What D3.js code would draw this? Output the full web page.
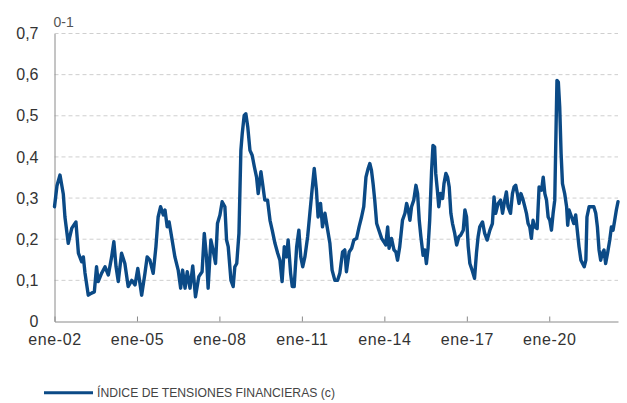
<!DOCTYPE html>
<html>
<head>
<meta charset="utf-8">
<script src="https://cdn.jsdelivr.net/npm/d3@7"></script>
<style>
  html, body { margin: 0; padding: 0; background: #fff; }
  svg { display: block; font-family: "Liberation Sans", Arial, Helvetica, sans-serif; }
</style>
</head>
<body>
<svg id="chart" width="627" height="403"></svg>
<script>
// ---- Data ----
const yearsDec = [
 2002.00,2002.09,2002.20,2002.32,2002.38,2002.50,2002.63,2002.78,2002.87,2002.99,
 2003.05,2003.11,2003.23,2003.35,2003.45,2003.53,2003.59,2003.72,2003.84,2003.96,
 2004.08,2004.16,2004.24,2004.32,2004.44,2004.56,2004.68,2004.81,2004.93,2005.03,
 2005.17,2005.29,2005.37,2005.47,2005.59,2005.69,2005.77,2005.86,2005.96,2006.02,
 2006.10,2006.17,2006.26,2006.38,2006.50,2006.59,2006.66,2006.75,2006.83,2006.93,
 2007.03,2007.13,2007.25,2007.37,2007.45,2007.53,2007.59,2007.69,2007.77,2007.86,
 2007.93,2008.02,2008.10,2008.20,2008.26,2008.32,2008.42,2008.50,2008.56,2008.63,
 2008.71,2008.78,2008.83,2008.90,2008.96,2009.03,2009.11,2009.19,2009.27,2009.35,
 2009.41,2009.51,2009.57,2009.65,2009.75,2009.84,2009.92,2010.02,2010.12,2010.20,
 2010.28,2010.36,2010.44,2010.50,2010.59,2010.65,2010.72,2010.81,2010.89,2010.96,
 2011.03,2011.11,2011.21,2011.29,2011.37,2011.45,2011.53,2011.59,2011.68,2011.75,
 2011.84,2011.92,2012.02,2012.10,2012.20,2012.30,2012.38,2012.48,2012.56,2012.62,
 2012.72,2012.81,2012.89,2012.99,2013.08,2013.17,2013.25,2013.33,2013.41,2013.47,
 2013.53,2013.59,2013.65,2013.72,2013.80,2013.90,2013.98,2014.05,2014.12,2014.17,
 2014.26,2014.35,2014.42,2014.48,2014.56,2014.66,2014.75,2014.81,2014.87,2014.93,
 2014.99,2015.07,2015.15,2015.21,2015.27,2015.33,2015.41,2015.47,2015.53,2015.59,
 2015.65,2015.72,2015.77,2015.83,2015.87,2015.93,2015.98,2016.04,2016.12,2016.17,
 2016.24,2016.30,2016.36,2016.42,2016.48,2016.56,2016.63,2016.71,2016.78,2016.87,
 2016.93,2016.99,2017.05,2017.11,2017.19,2017.28,2017.35,2017.41,2017.47,2017.57,
 2017.65,2017.74,2017.84,2017.93,2017.99,2018.05,2018.14,2018.23,2018.30,2018.38,
 2018.44,2018.50,2018.59,2018.66,2018.72,2018.78,2018.84,2018.90,2018.97,2019.05,
 2019.11,2019.17,2019.23,2019.29,2019.35,2019.41,2019.47,2019.56,2019.63,2019.72,
 2019.78,2019.84,2019.90,2019.96,2020.02,2020.08,2020.14,2020.20,2020.25,2020.28,
 2020.33,2020.38,2020.43,2020.48,2020.56,2020.63,2020.67,2020.72,2020.81,2020.89,
 2020.96,2021.03,2021.08,2021.15,2021.21,2021.27,2021.33,2021.37,2021.45,2021.53,
 2021.62,2021.69,2021.75,2021.81,2021.87,2021.93,2021.99,2022.05,2022.12,2022.20,
 2022.26,2022.32,2022.38,2022.44,2022.50
];
const values = [
 0.279,0.330,0.356,0.310,0.254,0.190,0.227,0.242,0.166,0.145,
 0.157,0.118,0.064,0.069,0.072,0.133,0.097,0.118,0.133,0.113,
 0.157,0.194,0.133,0.097,0.166,0.141,0.085,0.100,0.089,0.129,
 0.064,0.117,0.157,0.149,0.117,0.182,0.254,0.279,0.259,0.271,
 0.230,0.242,0.206,0.157,0.125,0.081,0.125,0.081,0.121,0.081,
 0.135,0.060,0.109,0.121,0.214,0.157,0.081,0.198,0.174,0.141,
 0.238,0.259,0.291,0.279,0.198,0.182,0.100,0.085,0.133,0.141,
 0.214,0.416,0.457,0.501,0.505,0.473,0.416,0.404,0.376,0.351,
 0.311,0.364,0.335,0.295,0.295,0.246,0.222,0.190,0.166,0.149,
 0.097,0.182,0.157,0.198,0.117,0.085,0.085,0.182,0.222,0.157,
 0.133,0.157,0.206,0.263,0.319,0.372,0.319,0.254,0.287,0.230,
 0.263,0.230,0.190,0.125,0.100,0.100,0.117,0.169,0.174,0.121,
 0.169,0.178,0.198,0.202,0.230,0.254,0.279,0.351,0.372,0.384,
 0.368,0.335,0.295,0.238,0.222,0.202,0.194,0.186,0.230,0.178,
 0.202,0.174,0.169,0.149,0.182,0.246,0.263,0.287,0.271,0.246,
 0.279,0.295,0.331,0.311,0.246,0.206,0.161,0.174,0.141,0.178,
 0.246,0.368,0.428,0.424,0.360,0.319,0.279,0.311,0.299,0.335,
 0.360,0.351,0.327,0.263,0.238,0.214,0.186,0.206,0.210,0.222,
 0.271,0.254,0.182,0.141,0.125,0.105,0.166,0.206,0.230,0.242,
 0.214,0.198,0.222,0.238,0.303,0.263,0.287,0.295,0.263,0.295,
 0.315,0.279,0.263,0.311,0.327,0.331,0.311,0.287,0.311,0.295,
 0.279,0.263,0.238,0.230,0.202,0.246,0.230,0.226,0.327,0.319,
 0.351,0.311,0.295,0.254,0.246,0.222,0.263,0.295,0.481,0.586,
 0.582,0.521,0.408,0.335,0.311,0.279,0.234,0.271,0.254,0.238,
 0.259,0.214,0.182,0.149,0.141,0.133,0.149,0.254,0.279,0.279,
 0.279,0.263,0.230,0.174,0.149,0.166,0.174,0.141,0.166,0.198,
 0.230,0.222,0.246,0.271,0.291
];
const yTicks = [0, 0.1, 0.2, 0.3, 0.4, 0.5, 0.6, 0.7];
const xTickYears = [2002, 2005, 2008, 2011, 2014, 2017, 2020];
const unitLabel = "0-1";
const legendLabel = "ÍNDICE DE TENSIONES FINANCIERAS (c)";

(function () {
  function decToDate(d) {
    const yr = Math.floor(d);
    const start = new Date(yr, 0, 1).getTime();
    const end = new Date(yr + 1, 0, 1).getTime();
    return new Date(start + (d - yr) * (end - start));
  }
  const data = yearsDec.map((d, i) => ({ date: decToDate(d), value: values[i] }));

  const svg = d3.select("#chart");
  const mLeft = 54.5, mRight = 618, mTop = 33.5, mBottom = 321.5;
  const lineColor = "#0b4a86";

  const x = d3.scaleTime()
    .domain([new Date(2002, 0, 1), decToDate(2022.5)])
    .range([mLeft, mRight]);
  const y = d3.scaleLinear().domain([0, 0.7]).range([mBottom, mTop]);

  // Gridlines
  svg.append("g")
    .selectAll("line")
    .data(yTicks.filter(t => t > 0))
    .join("line")
    .attr("x1", mLeft).attr("x2", mRight)
    .attr("y1", d => y(d)).attr("y2", d => y(d))
    .attr("stroke", "#cfcfcf")
    .attr("stroke-width", 1)
    .attr("stroke-dasharray", "4,3");

  // Y axis
  const fmtY = v => v === 0 ? "0" : d3.format(".1f")(v).replace(".", ",");
  const yAxis = svg.append("g")
    .attr("transform", `translate(${mLeft},0)`)
    .call(d3.axisLeft(y).tickValues(yTicks).tickFormat(fmtY).tickSize(0).tickPadding(16));
  yAxis.select(".domain").attr("stroke", "#8a8a8a");
  yAxis.selectAll("text")
    .attr("fill", "#333")
    .attr("font-size", "16px")
    .attr("font-family", "\"Liberation Sans\", Arial, sans-serif");

  // X axis
  const meses = ["ene","feb","mar","abr","may","jun","jul","ago","sep","oct","nov","dic"];
  const fmtX = d => meses[d.getMonth()] + "-" + String(d.getFullYear() % 100).padStart(2, "0");
  const xAxis = svg.append("g")
    .attr("transform", `translate(0,${mBottom})`)
    .call(d3.axisBottom(x)
      .tickValues(xTickYears.map(yr => new Date(yr, 0, 1)))
      .tickFormat(fmtX)
      .tickSizeInner(-5).tickSizeOuter(0).tickPadding(12));
  xAxis.select(".domain").attr("stroke", "#8a8a8a");
  xAxis.selectAll(".tick line").attr("stroke", "#8a8a8a");
  xAxis.selectAll("text")
    .attr("fill", "#333")
    .attr("font-size", "16px")
    .attr("letter-spacing", "0.6px")
    .attr("font-family", "\"Liberation Sans\", Arial, sans-serif");

  // Unit label
  svg.append("text")
    .attr("x", mLeft - 1).attr("y", 26.5)
    .attr("font-size", "14px")
    .attr("fill", "#555")
    .text(unitLabel);

  // Line
  const line = d3.line().x(d => x(d.date)).y(d => y(d.value));
  svg.append("path")
    .datum(data)
    .attr("fill", "none")
    .attr("stroke", lineColor)
    .attr("stroke-width", 3.4)
    .attr("stroke-linejoin", "round")
    .attr("stroke-linecap", "round")
    .attr("d", line);

  // Legend
  svg.append("line")
    .attr("x1", 44).attr("x2", 93)
    .attr("y1", 392.7).attr("y2", 392.7)
    .attr("stroke", lineColor).attr("stroke-width", 3);
  svg.append("text")
    .attr("x", 97).attr("y", 396.5)
    .attr("font-size", "13px")
    .attr("fill", "#444")
    .attr("textLength", 238)
    .attr("lengthAdjust", "spacingAndGlyphs")
    .text(legendLabel);
})();
</script>
</body>
</html>
